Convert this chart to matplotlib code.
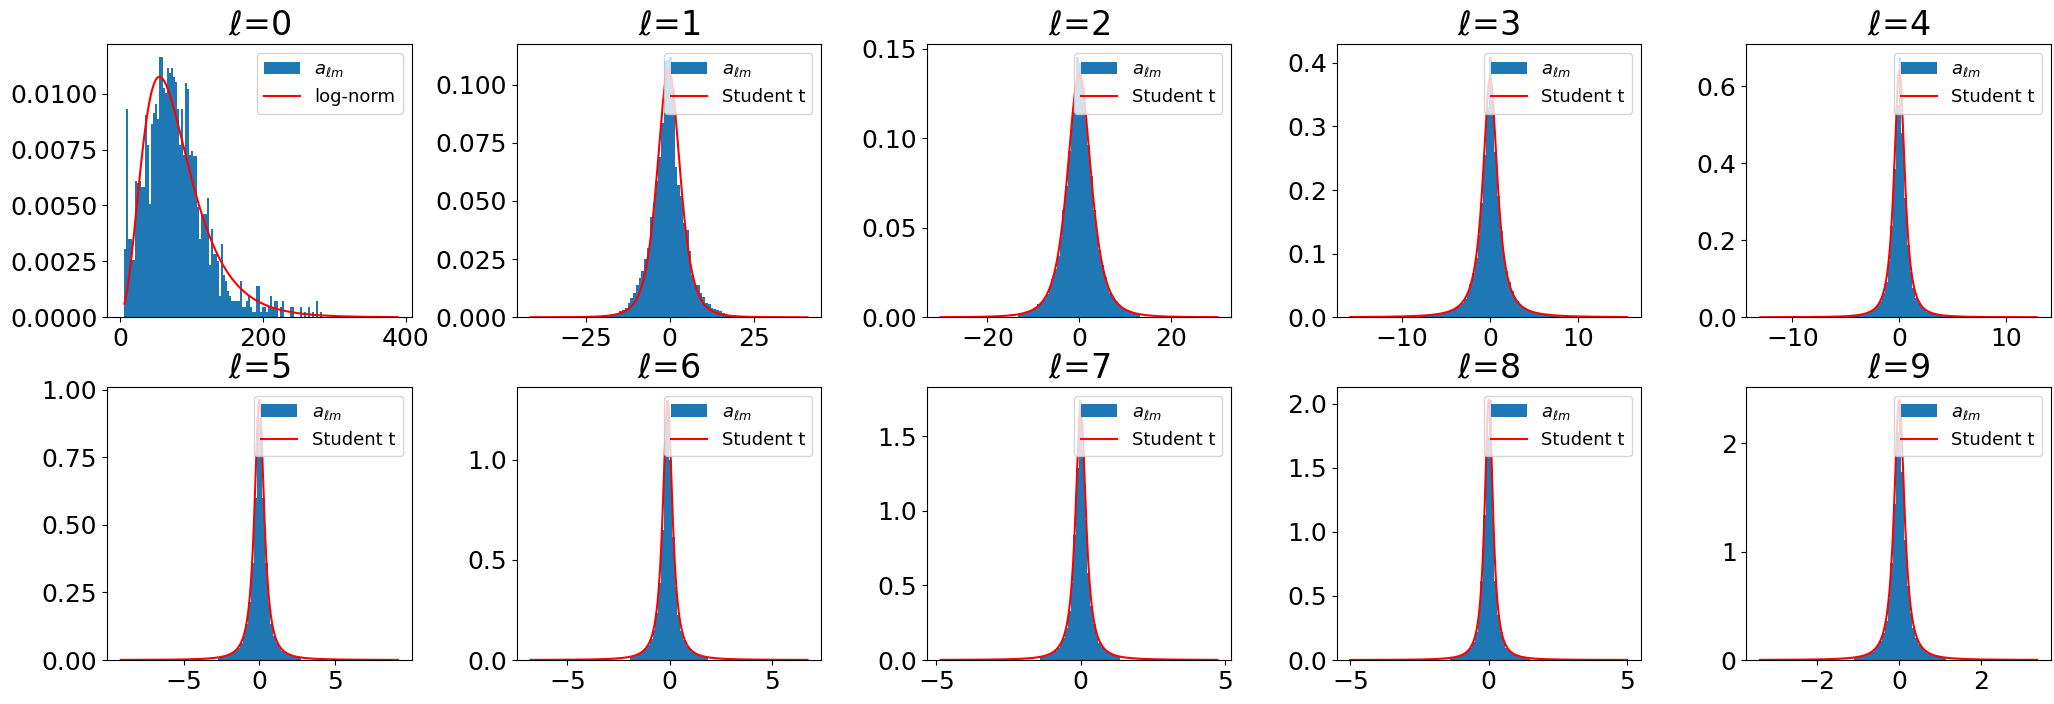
import math
import numpy as np
import matplotlib
matplotlib.use("Agg")
import matplotlib.pyplot as plt

plt.rcParams['font.size'] = 18

# ---------------- data ----------------
ells = [0, 1, 2, 3, 4, 5, 6, 7, 8, 9]

# l = 0 : histogram (bin start, bin width, heights) and log-normal fit
l0_bin_start = 6.0
l0_bin_width = 2.83
l0_heights = [
    0.00304, 0.00933, 0.00348, 0.00348, 0.00256, 0.00609, 0.00600, 0.00609, 0.00583, 0.00583,
    0.00906, 0.00769, 0.00506, 0.00863, 0.00915, 0.00955, 0.00888, 0.01164, 0.01164, 0.01025,
    0.01003, 0.01116, 0.01092, 0.01116, 0.01074, 0.01052, 0.00933, 0.00769, 0.00933, 0.00725,
    0.01048, 0.01022, 0.00725, 0.00744, 0.00720, 0.00720, 0.00494, 0.00348, 0.00463, 0.00463,
    0.00463, 0.00534, 0.00232, 0.00396, 0.00281, 0.00281, 0.00251, 0.00095, 0.00326, 0.00188,
    0.00162, 0.00116, 0.00095, 0.00071, 0.00071, 0.00071, 0.00071, 0.00161, 0.00045, 0.00045,
    0.00071, 0.00095, 0.00045, 0.00024, 0.00024, 0.00140, 0.00140, 0.00024, 0.00045, 0.00045,
    0.00024, 0.00045, 0.00095, 0.00045, 0.00071, 0.00071, 0.0, 0.00045, 0.00071, 0.0,
    0.0, 0.0, 0.00045, 0.00045, 0.0, 0.0, 0.0, 0.00045, 0.0, 0.00024,
    0.0, 0.00045, 0.0, 0.00024, 0.0, 0.00071, 0.0, 0.00024, 0.0, 0.0]
l0_fit = dict(s=0.45, loc=-19.3, scale=91.2)
l0_curve_range = (6.0, 389.0)
l0_xlim = (-18.4, 408.5)

# l = 1..9 : data range, first non-empty bin index, bin heights, Student t fit
data_range = {
    1: (-41.3, 41.0), 2: (-30.2, 30.1), 3: (-15.9, 15.6), 4: (-13.0, 12.86),
    5: (-9.14, 9.14), 6: (-6.8, 6.75), 7: (-4.86, 4.74), 8: (-5.0, 5.0), 9: (-3.39, 3.36)}
n_bins = 100
first_bin = {1: 26, 2: 28, 3: 25, 4: 30, 5: 35, 6: 36, 7: 36, 8: 36, 9: 34}

h1 = [0.0008, 0.0010, 0.0012, 0.0013, 0.0015, 0.0020, 0.0025, 0.0030, 0.0039, 0.0060,
      0.0082, 0.0103, 0.0139, 0.0168, 0.0197, 0.0250, 0.0297, 0.0433, 0.0493, 0.0584,
      0.0690, 0.0835, 0.1100, 0.1107, 0.1119, 0.0980, 0.0648, 0.0570, 0.0520, 0.0407,
      0.0376, 0.0287, 0.0182, 0.0139, 0.0139, 0.0103, 0.0089, 0.0063, 0.0056, 0.0039,
      0.0035, 0.0030, 0.0025, 0.0018, 0.0015, 0.0012, 0.0010, 0.0008]
h2 = [0.0022, 0.0026, 0.0030, 0.0034, 0.0039, 0.0046, 0.0058, 0.0072, 0.0080, 0.0100,
      0.0128, 0.0170, 0.0215, 0.0270, 0.0345, 0.0450, 0.0600, 0.0735, 0.0930, 0.1090,
      0.1220, 0.1454, 0.1420, 0.1280, 0.1110, 0.0960, 0.0790, 0.0600, 0.0470, 0.0375,
      0.0290, 0.0225, 0.0170, 0.0136, 0.0106, 0.0085, 0.0068, 0.0055, 0.0045, 0.0038,
      0.0033, 0.0029, 0.0025, 0.0021]
h3 = [0.0030, 0.0034, 0.0036, 0.0040, 0.0045, 0.0050, 0.0056, 0.0064, 0.0072, 0.0082,
      0.0095, 0.0110, 0.0128, 0.0150, 0.0180, 0.0225, 0.0290, 0.0380, 0.0520, 0.0700,
      0.0930, 0.1300, 0.1800, 0.2550, 0.3300, 0.4090, 0.3400, 0.2600, 0.1900, 0.1350,
      0.0960, 0.0720, 0.0560, 0.0420, 0.0320, 0.0250, 0.0200, 0.0160, 0.0132, 0.0112,
      0.0096, 0.0084, 0.0074, 0.0064, 0.0056, 0.0050, 0.0045, 0.0040, 0.0036, 0.0033,
      0.0030]
h4 = [0.0024, 0.0027, 0.0031, 0.0036, 0.0042, 0.0057, 0.0068, 0.0082, 0.0100, 0.0128,
      0.0169, 0.0225, 0.0304, 0.0420, 0.0618, 0.0924, 0.1460, 0.2380, 0.3840, 0.5510,
      0.6760, 0.4780, 0.3100, 0.1890, 0.1180, 0.0760, 0.0510, 0.0360, 0.0261, 0.0196,
      0.0150, 0.0122, 0.0100, 0.0084, 0.0071, 0.0061, 0.0053, 0.0046, 0.0040, 0.0035,
      0.0025]
h5 = [0.0096, 0.0110, 0.0140, 0.0170, 0.0210, 0.0260, 0.0340, 0.0460, 0.0630, 0.0900,
      0.1350, 0.2150, 0.3600, 0.6000, 0.9170, 0.8800, 0.6000, 0.3600, 0.2150, 0.1350,
      0.0900, 0.0630, 0.0460, 0.0340, 0.0260, 0.0210, 0.0170, 0.0140, 0.0110, 0.0096]
h6 = [0.018, 0.021, 0.026, 0.033, 0.042, 0.055, 0.074, 0.104, 0.152, 0.235,
      0.385, 0.650, 1.030, 1.300, 1.000, 0.615, 0.365, 0.225, 0.146, 0.100,
      0.071, 0.053, 0.040, 0.031, 0.025, 0.021, 0.018, 0.015]
h7 = [0.022, 0.026, 0.031, 0.039, 0.048, 0.062, 0.080, 0.108, 0.150, 0.217,
      0.327, 0.517, 0.837, 1.290, 1.746, 1.400, 0.942, 0.583, 0.365, 0.239,
      0.163, 0.117, 0.086, 0.066, 0.051, 0.041, 0.033, 0.028, 0.023]
h8 = [0.017, 0.020, 0.025, 0.031, 0.040, 0.052, 0.069, 0.096, 0.140, 0.215,
      0.352, 0.620, 1.130, 1.750, 2.030, 1.130, 0.620, 0.352, 0.215, 0.140,
      0.096, 0.069, 0.052, 0.040, 0.031, 0.025, 0.020, 0.017, 0.014]
h9 = [0.025, 0.029, 0.034, 0.041, 0.048, 0.060, 0.076, 0.096, 0.127, 0.173,
      0.246, 0.362, 0.558, 0.891, 1.440, 2.100, 2.400, 1.730, 1.106, 0.686,
      0.435, 0.291, 0.202, 0.145, 0.109, 0.083, 0.066, 0.053, 0.044, 0.037,
      0.031, 0.027, 0.023]
heights = {1: h1, 2: h2, 3: h3, 4: h4, 5: h5, 6: h6, 7: h7, 8: h8, 9: h9}

t_df = {1: 4.0, 2: 3.0, 3: 1.6, 4: 1.8, 5: 1.5, 6: 1.5, 7: 1.5, 8: 1.5, 9: 1.5}
t_loc = {1: -0.3, 2: 0.0, 3: 0.0, 4: 0.0, 5: 0.0, 6: -0.1, 7: 0.0, 8: 0.0, 9: 0.0}
t_scale = {1: 3.524, 2: 2.703, 3: 0.917, 4: 0.545, 5: 0.3534, 6: 0.2641,
           7: 0.2016, 8: 0.1678, 9: 0.1420}

xticks = {0: [0, 200, 400], 1: [-25, 0, 25], 2: [-20, 0, 20], 3: [-10, 0, 10],
          4: [-10, 0, 10], 5: [-5, 0, 5], 6: [-5, 0, 5], 7: [-5, 0, 5],
          8: [-5, 0, 5], 9: [-2, 0, 2]}
yticks = {0: [0.0, 0.0025, 0.005, 0.0075, 0.01],
          1: [0.0, 0.025, 0.05, 0.075, 0.1],
          2: [0.0, 0.05, 0.1, 0.15],
          3: [0.0, 0.1, 0.2, 0.3, 0.4],
          4: [0.0, 0.2, 0.4, 0.6],
          5: [0.0, 0.25, 0.5, 0.75, 1.0],
          6: [0.0, 0.5, 1.0],
          7: [0.0, 0.5, 1.0, 1.5],
          8: [0.0, 0.5, 1.0, 1.5, 2.0],
          9: [0, 1, 2]}


# ---------------- model curves ----------------
def t_pdf(x, df, loc, scale):
    z = (x - loc) / scale
    c = math.gamma((df + 1) / 2) / (math.sqrt(df * math.pi) * math.gamma(df / 2))
    return c / scale * (1 + z ** 2 / df) ** (-(df + 1) / 2)


def lognorm_pdf(x, s, loc, scale):
    u = x - loc
    return np.exp(-(np.log(u / scale)) ** 2 / (2 * s * s)) / (u * s * np.sqrt(2 * np.pi))


# ---------------- figure ----------------
fig, axes = plt.subplots(2, 5, figsize=(20.54, 7.04), dpi=100)
fig.subplots_adjust(left=0.0521, right=0.9985, bottom=0.0625, top=0.9375,
                    wspace=0.3457, hspace=0.254)

for l, ax in zip(ells, axes.flat):
    if l == 0:
        h = np.array(l0_heights)
        edges = l0_bin_start + l0_bin_width * np.arange(len(h) + 1)
        ax.hist(edges[:-1], bins=edges, weights=h, color='C0', label=r'$a_{\ell m}$')
        xs = np.linspace(l0_curve_range[0], l0_curve_range[1], 600)
        ax.plot(xs, lognorm_pdf(xs, **l0_fit), color='red', lw=1.5, label='log-norm')
        ax.set_xlim(*l0_xlim)
    else:
        lo, hi = data_range[l]
        w = (hi - lo) / n_bins
        h = np.array(heights[l])
        k0 = first_bin[l]
        edges = lo + w * np.arange(k0, k0 + len(h) + 1)
        ax.hist(edges[:-1], bins=edges, weights=h, color='C0', label=r'$a_{\ell m}$')
        xs = np.linspace(lo, hi, 800)
        ax.plot(xs, t_pdf(xs, t_df[l], t_loc[l], t_scale[l]), color='red', lw=1.5,
                label='Student t')
    ax.set_xticks(xticks[l])
    ax.set_yticks(yticks[l])
    ax.set_title(r'$\ell$=' + str(l), fontsize=24)
    ax.legend(loc='upper right', fontsize=13)

fig.savefig('out.png', dpi=100)
